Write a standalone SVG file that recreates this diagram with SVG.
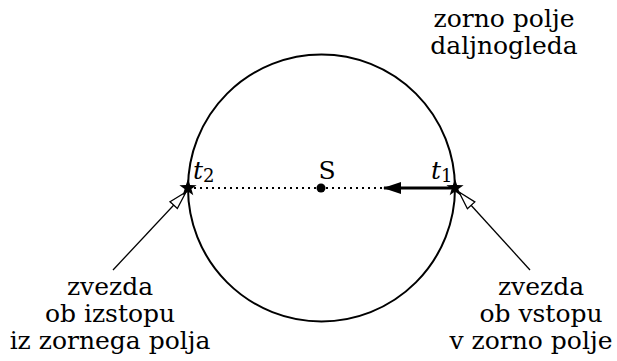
<svg xmlns="http://www.w3.org/2000/svg" width="617" height="361" viewBox="0 0 617 361">
<defs>
<marker id="open" viewBox="0 0 20 12" refX="19" refY="6" markerWidth="20" markerHeight="12" markerUnits="userSpaceOnUse" orient="auto">
<path d="M1,1 L19,6 L1,11 Z" fill="#fff" stroke="#000" stroke-width="1.3"/>
</marker>
<marker id="solid" viewBox="0 0 18 12" refX="17" refY="6" markerWidth="18" markerHeight="12" markerUnits="userSpaceOnUse" orient="auto">
<path d="M0,0 L18,6 L0,12 Z" fill="#000"/>
</marker>
<path id="star" d="M0,-9 L2.1,-2.9 L8.6,-2.8 L3.4,1.1 L5.3,7.3 L0,3.6 L-5.3,7.3 L-3.4,1.1 L-8.6,-2.8 L-2.1,-2.9 Z" fill="#000"/>
</defs>
<g id="field">
<circle cx="321.5" cy="188" r="133.5" fill="none" stroke="#000" stroke-width="2"/>
<g font-family="DejaVu Serif" font-size="25" text-anchor="middle" fill="#000">
<text x="504" y="27">zorno polje</text>
<text x="504" y="54">daljnogleda</text>
</g>
</g>
<g id="connectors">
<line x1="188" y1="188" x2="384" y2="188" stroke="#000" stroke-width="2" stroke-dasharray="2 4"/>
<line x1="455" y1="188" x2="384" y2="188" stroke="#000" stroke-width="3" marker-end="url(#solid)"/>
<line x1="113" y1="270" x2="186" y2="192" stroke="#000" stroke-width="1.3" marker-end="url(#open)"/>
<line x1="530" y1="270" x2="459" y2="192" stroke="#000" stroke-width="1.3" marker-end="url(#open)"/>
</g>
<g id="center">
<circle cx="321" cy="188" r="4.5" fill="#000"/>
<text x="327" y="179" font-family="DejaVu Serif" font-size="25" text-anchor="middle">S</text>
</g>
<g id="t2">
<use href="#star" x="188" y="188"/>
<text x="193" y="179" font-family="DejaVu Serif" font-size="25" font-style="italic">t<tspan font-size="18" font-style="normal" dy="3">2</tspan></text>
</g>
<g id="t1">
<use href="#star" x="455" y="188"/>
<text x="431" y="179" font-family="DejaVu Serif" font-size="25" font-style="italic">t<tspan font-size="18" font-style="normal" dy="3">1</tspan></text>
</g>
<g id="exit-label" font-family="DejaVu Serif" font-size="25" text-anchor="middle">
<text x="110" y="295">zvezda</text>
<text x="110" y="322">ob izstopu</text>
<text x="110" y="349">iz zornega polja</text>
</g>
<g id="entry-label" font-family="DejaVu Serif" font-size="25" text-anchor="middle">
<text x="541" y="295">zvezda</text>
<text x="541" y="322">ob vstopu</text>
<text x="531" y="349">v zorno polje</text>
</g>
</svg>
